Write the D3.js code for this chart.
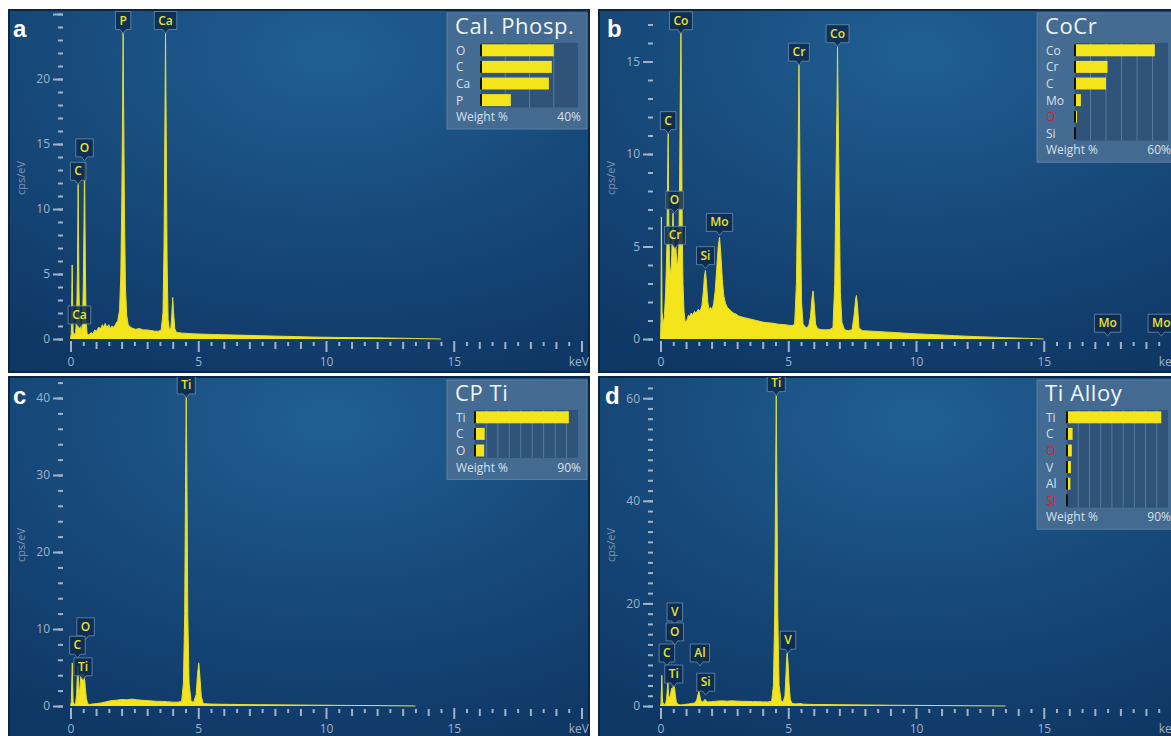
<!DOCTYPE html>
<html><head><meta charset="utf-8">
<script src="https://cdn.jsdelivr.net/npm/d3@7"></script>
<style>
html,body{margin:0;padding:0;background:#fff;overflow:hidden}
svg{display:block;font-family:"Open Sans","Noto Sans",sans-serif}
</style></head><body>
<svg id="chart" width="1171" height="736"></svg>
<script>
// ---------------- DATA ----------------
const panelLetters = ["a", "b", "c", "d"];
const sampleNames = ["Cal. Phosp.", "CoCr", "CP Ti", "Ti Alloy"];
const yTickMax = [25, 17, 42, 62];
const yMajorStep = [5, 5, 10, 20];
const yMinorStep = [1, 1, 2, 2];
const xTickValues = [0, 5, 10, 15, 20];
const xTickLabels = ["0", "5", "10", "15", "keV"];
const yAxisTitle = "cps/eV";

// spectra: [keV, cps/eV]
const spectrumA = [[0,0],[0.03,0.4],[0.066,5.7],[0.1,0.6],[0.15,0.3],[0.2,0.5],[0.24,1.5],[0.27,5],[0.30,11.9],[0.33,4],[0.35,1.8],[0.38,1.0],[0.42,0.6],[0.47,1.2],[0.5,4],[0.53,9],[0.55,13.6],[0.58,6],[0.61,1.5],[0.65,0.4],[0.72,0.3],[0.8,0.5],[0.88,0.4],[0.95,0.7],[1.02,0.6],[1.1,0.9],[1.18,0.8],[1.25,1.1],[1.3,0.9],[1.36,1.2],[1.42,0.9],[1.5,1.1],[1.56,0.8],[1.62,1.0],[1.7,0.9],[1.78,1.2],[1.85,1.4],[1.92,2.2],[1.97,5],[2.01,11],[2.04,18],[2.06,23.6],[2.08,18],[2.11,10],[2.15,4],[2.2,1.8],[2.26,1.1],[2.35,0.9],[2.45,0.8],[2.55,0.75],[2.7,0.8],[2.85,0.7],[3.0,0.7],[3.15,0.65],[3.3,0.6],[3.45,0.6],[3.55,0.7],[3.62,2],[3.66,7],[3.69,15],[3.72,23.6],[3.75,15],[3.78,6],[3.82,1.5],[3.87,0.7],[3.93,0.9],[3.97,2],[4.0,3.2],[4.03,2.2],[4.08,0.8],[4.15,0.5],[4.4,0.45],[4.8,0.4],[5.5,0.35],[6.5,0.3],[7.5,0.25],[8.5,0.2],[9.5,0.15],[10.5,0.12],[11.5,0.1],[12.5,0.07],[13.5,0.04],[14.5,0]];
const spectrumB = [[0,0],[0.02,1],[0.035,6.6],[0.06,1.5],[0.1,0.8],[0.15,1.2],[0.2,2.5],[0.25,5],[0.28,9],[0.30,11.1],[0.32,7],[0.35,4],[0.4,3.5],[0.44,4.5],[0.47,6],[0.49,6.8],[0.52,5.5],[0.56,4.5],[0.6,5],[0.64,4],[0.68,4.2],[0.72,5],[0.75,9],[0.78,14],[0.80,16.6],[0.82,13],[0.85,6],[0.88,3],[0.92,1.5],[0.96,1.0],[1.0,0.9],[1.05,1.1],[1.1,1.3],[1.15,1.2],[1.2,1.4],[1.27,1.3],[1.33,1.5],[1.4,1.4],[1.47,1.6],[1.55,1.5],[1.62,1.8],[1.68,2.6],[1.72,3.4],[1.76,3.7],[1.8,3.0],[1.85,2.0],[1.9,1.6],[1.96,1.7],[2.02,1.6],[2.08,1.9],[2.14,2.6],[2.2,3.8],[2.26,5.0],[2.31,5.5],[2.36,4.6],[2.42,3.2],[2.48,2.3],[2.55,1.9],[2.62,1.7],[2.7,1.6],[2.78,1.5],[2.85,1.4],[2.95,1.35],[3.05,1.25],[3.15,1.2],[3.3,1.15],[3.45,1.1],[3.6,1.05],[3.75,1.0],[3.9,0.95],[4.05,0.9],[4.2,0.88],[4.4,0.85],[4.6,0.8],[4.8,0.78],[5.0,0.75],[5.15,0.72],[5.25,0.8],[5.32,3],[5.37,8],[5.40,12],[5.42,14.8],[5.44,12],[5.47,7],[5.52,2],[5.58,0.8],[5.7,0.6],[5.8,0.7],[5.87,1.2],[5.93,2.2],[5.97,2.6],[6.01,2.0],[6.07,0.8],[6.15,0.55],[6.35,0.5],[6.6,0.5],[6.75,0.6],[6.82,3],[6.87,9],[6.91,13],[6.93,15.8],[6.95,13],[6.99,8],[7.04,2.5],[7.1,0.9],[7.2,0.5],[7.35,0.45],[7.5,0.5],[7.58,1.3],[7.64,2.2],[7.67,2.35],[7.71,1.8],[7.77,0.6],[7.9,0.45],[8.3,0.42],[8.8,0.38],[9.5,0.32],[10,0.28],[10.5,0.25],[11,0.22],[11.5,0.18],[12,0.15],[12.5,0.12],[13,0.1],[13.5,0.07],[14,0.05],[14.5,0.03],[15,0]];
const spectrumC = [[0,0],[0.03,0.5],[0.07,5.6],[0.1,0.6],[0.15,0.2],[0.2,0.3],[0.24,1.5],[0.27,4],[0.29,5.2],[0.31,3],[0.34,1.5],[0.37,2.5],[0.4,3.8],[0.43,4.3],[0.46,4.0],[0.49,3.5],[0.52,4.2],[0.55,3.6],[0.58,2.4],[0.62,1.0],[0.67,0.3],[0.75,0.2],[0.85,0.25],[1.0,0.3],[1.2,0.4],[1.4,0.55],[1.6,0.7],[1.8,0.75],[2.0,0.85],[2.2,0.8],[2.4,0.9],[2.6,0.8],[2.8,0.75],[3.0,0.7],[3.2,0.65],[3.4,0.6],[3.6,0.6],[3.8,0.55],[4.0,0.5],[4.2,0.5],[4.35,0.6],[4.42,3],[4.47,12],[4.50,28],[4.53,40.5],[4.56,28],[4.59,12],[4.64,3],[4.72,0.6],[4.82,0.5],[4.92,1.5],[4.97,4],[5.02,5.6],[5.06,4],[5.12,1.2],[5.2,0.3],[5.5,0.25],[6,0.22],[7,0.18],[8,0.15],[9,0.12],[10,0.1],[11,0.07],[12,0.05],[13,0.02],[13.5,0]];
const spectrumD = [[0,0],[0.02,0.5],[0.05,6],[0.08,0.8],[0.13,0.3],[0.2,0.4],[0.24,1.5],[0.27,3.5],[0.29,4.6],[0.32,2],[0.36,1.5],[0.4,2.5],[0.44,3.5],[0.47,3.2],[0.51,4.2],[0.55,3.5],[0.58,2.2],[0.62,0.8],[0.68,0.3],[0.8,0.2],[0.95,0.3],[1.1,0.4],[1.25,0.5],[1.35,0.6],[1.42,1.2],[1.47,2.3],[1.50,2.8],[1.53,2.2],[1.58,1.0],[1.64,0.8],[1.7,1.0],[1.74,1.3],[1.78,1.0],[1.85,0.8],[2.0,0.85],[2.2,0.95],[2.4,1.0],[2.6,0.95],[2.8,1.0],[3.0,0.95],[3.2,0.9],[3.4,0.9],[3.6,0.85],[3.8,0.85],[4.0,0.8],[4.2,0.8],[4.35,0.9],[4.42,4],[4.47,18],[4.50,40],[4.53,60.5],[4.56,40],[4.59,18],[4.64,4],[4.72,1.0],[4.8,0.8],[4.87,2],[4.91,6],[4.94,9.5],[4.96,10.3],[4.99,8.5],[5.03,4.5],[5.08,1.2],[5.15,0.5],[5.3,0.4],[5.45,0.5],[5.6,0.35],[6,0.3],[7,0.25],[8,0.2],[9,0.15],[10,0.12],[11,0.08],[12,0.05],[13,0.02],[13.5,0]];

// peak labels: [element, keV, label tip cps]
const peakLabelsA = [["P",2.06,23.5],["Ca",3.72,23.5],["C",0.30,11.9],["O",0.55,13.7],["Ca",0.35,0.85]];
const peakLabelsB = [["Co",0.80,16.5],["C",0.30,11.1],["O",0.55,6.8],["Cr",0.57,4.9],["Si",1.76,3.8],["Mo",2.31,5.6],["Cr",5.42,14.8],["Co",6.93,15.8],["Mo",17.5,0.15],["Mo",19.6,0.15]];
const peakLabelsC = [["Ti",4.53,40],["O",0.59,8.6],["C",0.27,6.2],["Ti",0.49,3.4]];
const peakLabelsD = [["Ti",4.53,60.5],["V",0.56,15.8],["O",0.56,11.9],["C",0.25,7.8],["Ti",0.52,3.7],["Al",1.54,7.8],["Si",1.77,2.1],["V",4.99,10.3]];

// composition legends (Weight %)
const legendElementsA = ["O","C","Ca","P"];
const legendValuesA = [30.0,29.2,28.0,12.3];
const legendElementsB = ["Co","Cr","C","Mo","O","Si"];
const legendValuesB = [51.5,21.0,20.0,3.8,1.3,0.3];
const legendElementsC = ["Ti","C","O"];
const legendValuesC = [82.0,8.5,8.0];
const legendElementsD = ["Ti","C","O","V","Al","Si"];
const legendValuesD = [84.0,5.0,4.3,3.5,3.0,0.3];
const legendMax = [40, 60, 90, 90];
const legendRedElements = [[], ["O"], [], ["O","Si"]];
const legendFooter = "Weight %";

const spectra = [spectrumA, spectrumB, spectrumC, spectrumD];
const peakLabels = [peakLabelsA, peakLabelsB, peakLabelsC, peakLabelsD];
const legendElements = [legendElementsA, legendElementsB, legendElementsC, legendElementsD];
const legendValues = [legendValuesA, legendValuesB, legendValuesC, legendValuesD];

// ---------------- LAYOUT ----------------
const W = 580, H = 362;
const panelPos = [[9,10],[599,10],[9,377],[599,377]];
const plotX0 = 61.5, pxPerKeV = 25.55, baseY = 329;
const pxPerCps = [13, 18.5, 7.7, 5.13];
const letterX = [4, 8, 4, 6];
const trackOffset = [34, 38, 28, 30];

const tickColor = "#9fb3c8";
const yellow = "#f4e41c";

const svg = d3.select("#chart");
const defs = svg.append("defs");
const grad = defs.append("radialGradient").attr("id","bg")
  .attr("cx","0.55").attr("cy","0.12").attr("r","0.95");
grad.append("stop").attr("offset","0").attr("stop-color","#215f93");
grad.append("stop").attr("offset","0.5").attr("stop-color","#174a7b");
grad.append("stop").attr("offset","1").attr("stop-color","#0f3765");
defs.append("clipPath").attr("id","pclip").append("rect").attr("width",W).attr("height",H);

panelLetters.forEach((letter, i) => {
  const [px, py] = panelPos[i];
  const g = svg.append("g").attr("transform", `translate(${px},${py})`);
  g.append("rect").attr("width", W).attr("height", H)
    .attr("fill", "url(#bg)").attr("stroke", "#0b2545").attr("stroke-width", 2);

  const inner = g.append("g").attr("clip-path", "url(#pclip)");

  const x = d3.scaleLinear().domain([0, 20]).range([plotX0, plotX0 + 20 * pxPerKeV]);
  const yMax = yTickMax[i];
  const y = d3.scaleLinear().domain([0, yMax]).range([baseY, baseY - yMax * pxPerCps[i]]);

  // y axis: minor + major
  const minor = d3.range(0, yMax + 1e-6, yMinorStep[i]);
  const major = d3.range(0, yMax + 1e-6, yMajorStep[i]);
  const yMinorAxis = inner.append("g").attr("transform", "translate(54,0)")
    .call(d3.axisLeft(y).tickValues(minor).tickSize(5).tickFormat(""));
  const yMajorAxis = inner.append("g").attr("transform", "translate(54,0)")
    .call(d3.axisLeft(y).tickValues(major).tickSize(10).tickPadding(3)
      .tickFormat(v => v < yMax ? d3.format("d")(v) : ""));
  [yMinorAxis, yMajorAxis].forEach(ax => {
    ax.select(".domain").remove();
    ax.selectAll("line").attr("stroke", tickColor).attr("stroke-width", 2);
    ax.selectAll("text").attr("fill", tickColor).attr("font-size", 12)
      .attr("font-family", '"Open Sans","Noto Sans",sans-serif');
  });

  // x axis: halves, integers, majors
  const halves = d3.range(0.5, 20, 1);
  const ints = d3.range(1, 20, 1).filter(v => v % 5 !== 0);
  const xa1 = inner.append("g").attr("transform", `translate(0,${baseY + 3})`)
    .call(d3.axisBottom(x).tickValues(halves).tickSize(4).tickFormat(""));
  const xa2 = inner.append("g").attr("transform", `translate(0,${baseY + 3})`)
    .call(d3.axisBottom(x).tickValues(ints).tickSize(7).tickFormat(""));
  const xa3 = inner.append("g").attr("transform", `translate(0,${baseY + 2})`)
    .call(d3.axisBottom(x).tickValues(xTickValues).tickSize(11).tickPadding(5)
      .tickFormat((d, k) => xTickLabels[k]));
  [xa1, xa2, xa3].forEach(ax => {
    ax.select(".domain").remove();
    ax.selectAll("line").attr("stroke", tickColor).attr("stroke-width", 2);
    ax.selectAll("text").attr("fill", tickColor).attr("font-size", 12)
      .attr("font-family", '"Open Sans","Noto Sans",sans-serif');
  });
  xa3.selectAll(".tick").filter(d => d === 20).select("text")
    .attr("text-anchor", "end").attr("x", 7);

  // y axis title
  inner.append("text").text(yAxisTitle)
    .attr("transform", `translate(16,168) rotate(-90)`)
    .attr("text-anchor", "middle").attr("fill", "#7e98b3").attr("font-size", 11);

  // spectrum
  const area = d3.area().x(d => x(d[0])).y0(y(0)).y1(d => y(d[1]));
  const line = d3.line().x(d => x(d[0])).y(d => y(d[1]));
  inner.append("path").datum(spectra[i]).attr("d", area).attr("fill", yellow);
  inner.append("path").datum(spectra[i]).attr("d", line).attr("fill", "none")
    .attr("stroke", "#e2dc3a").attr("stroke-width", 1);

  // peak labels
  peakLabels[i].forEach(([el, kev, tip]) => {
    const lx = x(kev), ly = y(tip);
    const lg = inner.append("g");
    const path = lg.append("path");
    const t = lg.append("text").text(el).attr("x", lx).attr("y", ly - 9)
      .attr("text-anchor", "middle").attr("font-size", 12).attr("font-weight", 600)
      .attr("fill", "#e8e232");
    const w = t.node().getComputedTextLength() + 8;
    const h = 18, p = 4;
    path.attr("d", `M${lx - w / 2},${ly - p - h}h${w}v${h}H${lx + 3}L${lx},${ly}L${lx - 3},${ly - p}H${lx - w / 2}Z`)
      .attr("fill", "#0d2a4b").attr("fill-opacity", 0.85)
      .attr("stroke", "#6a8fb3").attr("stroke-opacity", 0.8).attr("stroke-width", 1);
  });

  // legend
  const els = legendElements[i], vals = legendValues[i], maxV = legendMax[i];
  const LW = 140, L = W - 2 - LW, T = 3, rowH = 16.6;
  const LH = 29 + (els.length + 1) * rowH + 4;
  const lgd = inner.append("g");
  lgd.append("rect").attr("x", L).attr("y", T).attr("width", LW).attr("height", LH)
    .attr("fill", "#4a6e94").attr("fill-opacity", 0.88)
    .attr("stroke", "#5d80a6").attr("stroke-width", 1);
  lgd.append("text").text(sampleNames[i]).attr("x", L + 8).attr("y", T + 21)
    .attr("font-size", 22).attr("font-weight", 400).attr("letter-spacing", 0.6)
    .attr("fill", "#f2f6fa");
  const tStart = L + trackOffset[i], tEnd = L + LW - 9;
  const bx = d3.scaleLinear().domain([0, maxV]).range([tStart, tEnd]);
  const rowY = d3.scaleBand().domain(d3.range(els.length)).range([T + 29, T + 29 + els.length * rowH]);
  lgd.append("rect").attr("x", tStart).attr("y", T + 30).attr("width", tEnd - tStart)
    .attr("height", els.length * rowH - 2).attr("fill", "#2f5379");
  d3.range(10, maxV, 10).forEach(v => {
    lgd.append("line").attr("x1", bx(v)).attr("x2", bx(v))
      .attr("y1", T + 30).attr("y2", T + 28 + els.length * rowH)
      .attr("stroke", "#557ba2").attr("stroke-width", 1);
  });
  els.forEach((el, k) => {
    const cy = rowY(k) + rowH / 2;
    lgd.append("text").text(el).attr("x", L + 9).attr("y", cy + 4.5)
      .attr("font-size", 12)
      .attr("fill", legendRedElements[i].includes(el) ? "#c8283c" : "#d7e0ea");
    lgd.append("rect").attr("x", bx(0)).attr("y", cy - 6).attr("width", bx(vals[k]) - bx(0))
      .attr("height", 12).attr("fill", yellow);
    lgd.append("rect").attr("x", bx(0) - 1).attr("y", cy - 6).attr("width", 2)
      .attr("height", 12).attr("fill", "#111");
  });
  const fy = T + 29 + els.length * rowH + rowH / 2 + 4.5;
  lgd.append("text").text(legendFooter).attr("x", L + 9).attr("y", fy)
    .attr("font-size", 12).attr("fill", "#d7e0ea");
  lgd.append("text").text(maxV + "%").attr("x", L + LW - 6).attr("y", fy)
    .attr("text-anchor", "end").attr("font-size", 12).attr("fill", "#d7e0ea");

  // panel letter
  g.append("text").text(letter).attr("x", letterX[i]).attr("y", 27)
    .attr("font-family", '"Liberation Sans",Arial,sans-serif')
    .attr("font-size", 24).attr("font-weight", "bold").attr("fill", "#ffffff");
});
</script>
</body></html>
